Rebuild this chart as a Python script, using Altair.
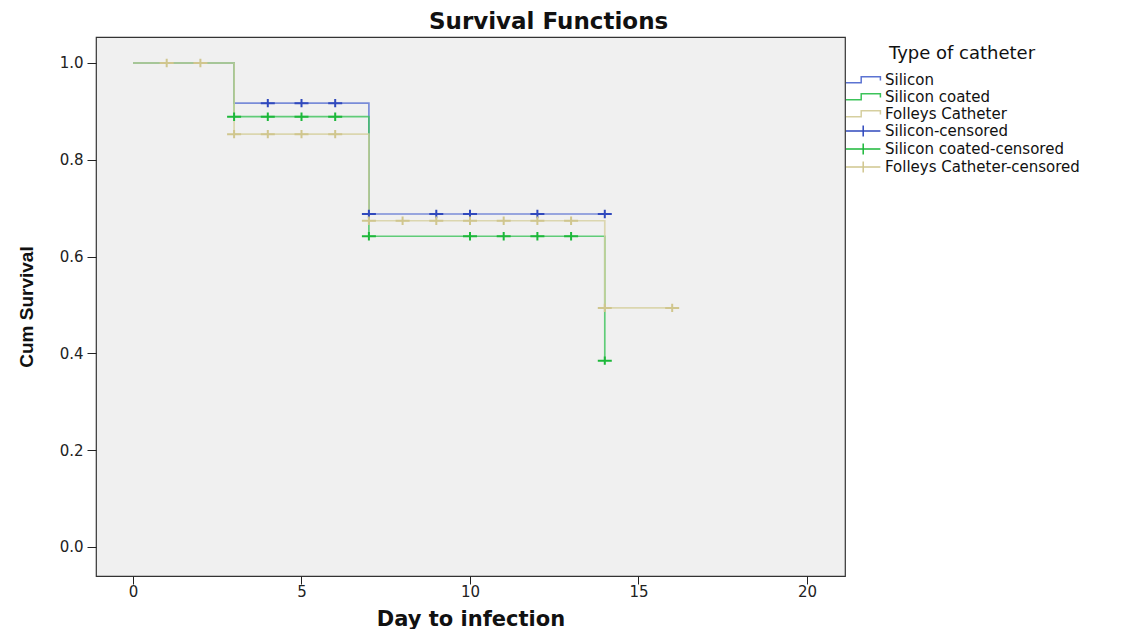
import altair as alt
import pandas as pd

# ---------------- data ----------------
line_names = ["Silicon", "Silicon coated", "Folleys Catheter"]
censor_names = ["Silicon-censored", "Silicon coated-censored", "Folleys Catheter-censored"]

silicon_days = [0, 3, 7, 14]
silicon_surv = [1.0, 0.917, 0.688, 0.688]
coated_days = [0, 3, 7, 14]
coated_surv = [1.0, 0.889, 0.642, 0.385]
folleys_days = [0, 3, 7, 14, 16]
folleys_surv = [1.0, 0.853, 0.674, 0.494, 0.494]

silicon_cens_days = [4, 5, 6, 7, 9, 10, 12, 14]
silicon_cens_surv = [0.917, 0.917, 0.917, 0.688, 0.688, 0.688, 0.688, 0.688]
coated_cens_days = [3, 4, 5, 6, 7, 10, 11, 12, 13, 14]
coated_cens_surv = [0.889, 0.889, 0.889, 0.889, 0.642, 0.642, 0.642, 0.642, 0.642, 0.385]
folleys_cens_days = [1, 2, 3, 4, 5, 6, 7, 8, 9, 10, 11, 12, 13, 14, 16]
folleys_cens_surv = [1.0, 1.0, 0.853, 0.853, 0.853, 0.853, 0.674, 0.674, 0.674, 0.674,
                     0.674, 0.674, 0.674, 0.494, 0.494]

x_ticks = [0, 5, 10, 15, 20]
y_ticks = [0.0, 0.2, 0.4, 0.6, 0.8, 1.0]

# ---------------- styles ----------------
line_colors = ["#5b73d2", "#3cc35a", "#d6cf9f"]
censor_colors = ["#3049bd", "#1cb83a", "#d0c68e"]
all_names = line_names + censor_names
all_colors = line_colors + censor_colors

STEP_PATH = "M-1,0.35H0.9V-0.4H3.3V0.05"
CENS_LEGEND_PATH = "M-1,0H3.3M1.15,-0.7V0.7"
PLUS_PATH = "M-1,0H1M0,-0.6V0.6"

FONT = "DejaVu Sans"

x_scale = alt.Scale(domain=[-1.098, 21.128], nice=False, zero=False)
y_scale = alt.Scale(domain=[-0.06, 1.0537], nice=False, zero=False)

x_axis = alt.Axis(values=x_ticks, format="d", title="Day to infection", grid=False,
                  domain=False, tickSize=8, tickColor="#222", labelPadding=0,
                  titlePadding=9, labelFont=FONT, labelFontSize=15, labelColor="#222",
                  titleFont=FONT, titleFontSize=21, titleFontWeight="bold", titleColor="#111")
y_axis = alt.Axis(values=y_ticks, format=".1f", title="Cum Survival", grid=False,
                  domain=False, tickSize=9, tickColor="#222", labelPadding=4,
                  titlePadding=23, labelFont=FONT, labelFontSize=15, labelColor="#222",
                  titleFont="Liberation Sans", titleFontSize=19, titleFontWeight="bold",
                  titleColor="#111")

line_sets = [(line_colors[0], silicon_days, silicon_surv),
             (line_colors[1], coated_days, coated_surv),
             (line_colors[2], folleys_days, folleys_surv)]
cens_sets = [(censor_colors[0], silicon_cens_days, silicon_cens_surv),
             (censor_colors[1], coated_cens_days, coated_cens_surv),
             (censor_colors[2], folleys_cens_days, folleys_cens_surv)]

leg = alt.Legend(title="Type of catheter", orient="none", legendX=749, legendY=8,
                 padding=0, symbolSize=256, symbolStrokeWidth=1.5, symbolOpacity=1,
                 labelOffset=22, labelFont=FONT, labelFontSize=15, labelColor="#111",
                 titleFont=FONT, titleFontSize=18, titleFontWeight="normal", titleColor="#111",
                 titleAnchor="middle", titlePadding=8, rowPadding=0, symbolOffset=0,
                 labelLimit=400)

legend_df = pd.DataFrame({"series": all_names})
layers = [
    alt.Chart(legend_df).mark_point(opacity=0, filled=False)
    .encode(color=alt.Color("series:N", scale=alt.Scale(domain=all_names, range=all_colors),
                            legend=leg, sort=all_names),
            shape=alt.Shape("series:N",
                            scale=alt.Scale(domain=all_names,
                                            range=[STEP_PATH] * 3 + [CENS_LEGEND_PATH] * 3),
                            legend=leg, sort=all_names))
]

for col, d, s in line_sets:
    df = pd.DataFrame({"day": d, "surv": s})
    layers.append(
        alt.Chart(df).mark_line(interpolate="step-after", strokeWidth=1.7, opacity=0.8, color=col)
        .encode(x=alt.X("day:Q", scale=x_scale, axis=x_axis),
                y=alt.Y("surv:Q", scale=y_scale, axis=y_axis))
    )

for col, d, s in cens_sets:
    df = pd.DataFrame({"day": d, "surv": s})
    layers.append(
        alt.Chart(df).mark_point(shape=PLUS_PATH, size=196, strokeWidth=2, filled=False,
                                 opacity=1, color=col)
        .encode(x=alt.X("day:Q", scale=x_scale, axis=x_axis),
                y=alt.Y("surv:Q", scale=y_scale, axis=y_axis))
    )

chart = (
    alt.layer(*layers)
    .properties(width=749, height=539,
                title=alt.TitleParams("Survival Functions", font=FONT, fontSize=23,
                                      fontWeight="bold", color="#111", anchor="middle",
                                      frame="bounds", offset=3),
                padding={"left": 9, "top": 3, "right": 5, "bottom": 0})
    .configure_view(fill="#f0f0f0", stroke="#333", strokeWidth=1.2)
)

chart.save("out.html", embed_options={"renderer": "svg", "actions": False})
